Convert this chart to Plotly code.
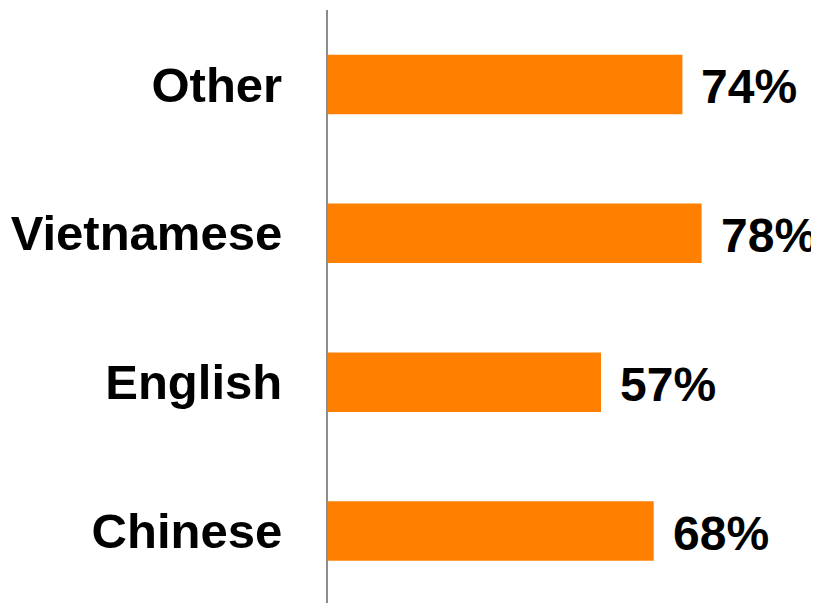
import plotly.graph_objects as go

# categories bottom -> top
languages = ["Chinese", "English", "Vietnamese", "Other"]
shares = [68, 57, 78, 74]
share_labels = ["68%", "57%", "78%", "74%"]

BAR_COLOR = "#FF8000"
FONT = "Liberation Sans, Arial, sans-serif"

fig = go.Figure(go.Bar(
    x=shares, y=languages, orientation="h",
    marker=dict(color=BAR_COLOR, line=dict(width=0)),
    width=0.4, hoverinfo="skip",
))

# value labels sit a little right of each bar end
for lang, val, lab in zip(languages, shares, share_labels):
    fig.add_annotation(
        x=val, y=lang, text=f"<b>{lab}</b>", showarrow=False,
        xanchor="left", xshift=17, yshift=-2,
        font=dict(family=FONT, size=48, color="#000000"),
    )

# page body adds an 8px margin, so the figure is sized to fit inside it
fig.update_layout(
    width=811, height=595,
    margin=dict(l=320, r=12, t=2, b=0),
    paper_bgcolor="white", plot_bgcolor="white",
    showlegend=False,
    font=dict(family=FONT, color="#000000"),
)
fig.update_xaxes(range=[0, 100], visible=False, showgrid=False, zeroline=False,
                 automargin=False)
fig.update_yaxes(
    range=[-0.483, 3.5], showgrid=False, zeroline=False, automargin=False,
    showline=True, linecolor="#8C8C8C", linewidth=2,
    tickfont=dict(family=FONT, size=49, color="#000000"),
    tickprefix="<b>", ticksuffix="</b>",
    ticklabelstandoff=34,
)

fig.write_html("out.html")
